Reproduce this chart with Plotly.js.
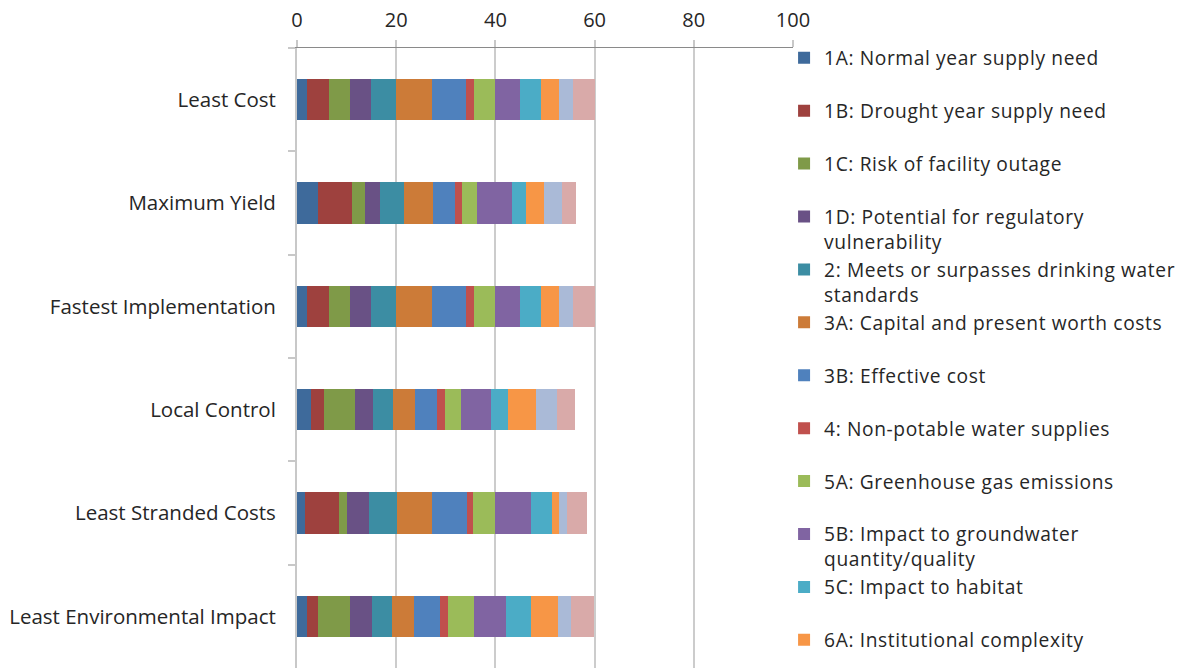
<!DOCTYPE html>
<html>
<head>
<meta charset="utf-8">
<script src="https://cdn.plot.ly/plotly-3.0.1.min.js"></script>
<style>
html,body{margin:0;padding:0;background:#fff;}
#chart{width:1181px;height:668px;}
.legendtext{letter-spacing:0.62px;}
</style>
</head>
<body>
<div id="chart"></div>
<script>
const categories = ["Least Cost", "Maximum Yield", "Fastest Implementation", "Local Control", "Least Stranded Costs", "Least Environmental Impact"];
const xTicks = [0, 20, 40, 60, 80, 100];

const seriesNames = [
  "1A: Normal year supply need",
  "1B: Drought year supply need",
  "1C: Risk of facility outage",
  "1D: Potential for regulatory<br>vulnerability",
  "2: Meets or surpasses drinking water<br>standards",
  "3A: Capital and present worth costs",
  "3B: Effective cost",
  "4: Non-potable water supplies",
  "5A: Greenhouse gas emissions",
  "5B: Impact to groundwater<br>quantity/quality",
  "5C: Impact to habitat",
  "6A: Institutional complexity",
  "6B",
  "7"
];

const s1A = [2.0, 4.3, 2.0, 2.9, 1.55, 1.95];
const s1B = [4.5, 6.7, 4.5, 2.6, 7.0, 2.35];
const s1C = [4.25, 2.8, 4.25, 6.25, 1.5, 6.4];
const s1D = [4.25, 2.9, 4.25, 3.65, 4.4, 4.5];
const s2  = [5.0, 4.9, 5.0, 3.9, 5.65, 3.95];
const s3A = [7.2, 5.9, 7.2, 4.4, 7.05, 4.5];
const s3B = [6.9, 4.45, 6.9, 4.5, 7.05, 5.25];
const s4  = [1.5, 1.35, 1.5, 1.55, 1.35, 1.6];
const s5A = [4.4, 3.0, 4.4, 3.25, 4.45, 5.1];
const s5B = [4.9, 7.1, 4.9, 6.05, 7.15, 6.6];
const s5C = [4.3, 2.75, 4.3, 3.5, 4.25, 5.05];
const s6A = [3.6, 3.65, 3.6, 5.7, 1.4, 5.3];
const s6B = [2.9, 3.55, 2.9, 4.25, 1.55, 2.7];
const s7  = [4.3, 2.9, 4.3, 3.55, 4.2, 4.65];

const seriesValues = [s1A, s1B, s1C, s1D, s2, s3A, s3B, s4, s5A, s5B, s5C, s6A, s6B, s7];
const colors = ["#3E6A9B", "#9E413E", "#7F9A48", "#695185", "#3C8DA3", "#CC7B38", "#4F81BD",
                "#C0504D", "#9BBB59", "#8064A2", "#4BACC6", "#F79646", "#AABAD7", "#D9AAA9"];

const FONT = "'Open Sans', 'Noto Sans', sans-serif";

const traces = seriesNames.map((name, i) => {
  const lines = name.split("<br>").length;
  const legendName = (i === 11 || lines > 1) ? name : name + "<br>\u00a0";
  return {
    type: "bar",
    orientation: "h",
    name: legendName,
    y: categories,
    x: seriesValues[i],
    marker: {color: colors[i], line: {width: 0}},
    showlegend: i < 12,
    hoverinfo: "x+y"
  };
});

const layout = {
  width: 1181,
  height: 668,
  margin: {l: 297, r: 388, t: 48, b: 0, pad: 0, autoexpand: false},
  barmode: "stack",
  bargap: 0.6,
  paper_bgcolor: "#ffffff",
  plot_bgcolor: "#ffffff",
  font: {family: FONT, size: 19, color: "#262626"},
  xaxis: {
    side: "top",
    range: [0, 100],
    tickvals: xTicks,
    ticktext: xTicks.map(String),
    showgrid: true,
    gridcolor: "#cccccc",
    gridwidth: 2,
    zeroline: false,
    showline: true,
    linecolor: "#8a8a8a",
    linewidth: 1,
    ticks: "outside",
    ticklen: 7,
    tickcolor: "#c8c8c8",
    tickwidth: 2,
    ticklabelstandoff: 5,
    tickfont: {family: FONT, size: 20, color: "#262626"},
    fixedrange: true
  },
  yaxis: {
    type: "category",
    autorange: "reversed",
    showgrid: false,
    zeroline: false,
    showline: true,
    linecolor: "#c8c8c8",
    linewidth: 2,
    ticks: "outside",
    tickson: "boundaries",
    ticklen: 7,
    tickcolor: "#c8c8c8",
    tickwidth: 2,
    ticklabelstandoff: 15,
    tickfont: {family: FONT, size: 20.5, color: "#262626"},
    fixedrange: true
  },
  showlegend: true,
  legend: {
    x: 0.982,
    xanchor: "left",
    yref: "container",
    y: 0.942,
    yanchor: "top",
    maxheight: 660,
    traceorder: "normal",
    valign: "top",
    bgcolor: "rgba(0,0,0,0)",
    borderwidth: 0,
    font: {family: FONT, size: 19.2, color: "#262626"}
  }
};

Plotly.newPlot("chart", traces, layout, {displayModeBar: false, staticPlot: true});
</script>
</body>
</html>
